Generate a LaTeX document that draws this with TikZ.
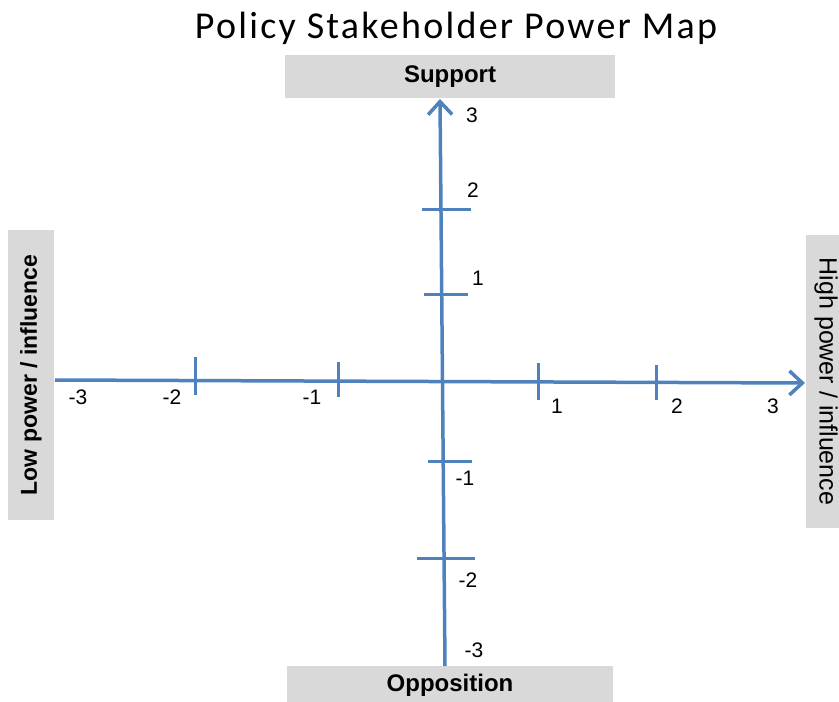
\documentclass[tikz,border=0pt]{standalone}
\usepackage{fontspec}
\setmainfont{Liberation Sans}
\newfontfamily\titlefont[LetterSpace=6]{Carlito}
\usetikzlibrary{arrows.meta}
\definecolor{axisblue}{HTML}{4F81BD}
\definecolor{boxgray}{HTML}{D9D9D9}

\begin{document}
\begin{tikzpicture}[x=1pt,y=-1pt,
    mainaxis/.style={axisblue, line width=3.5pt, -{Straight Barb[length=13pt,width=24pt]}},
    tickmark/.style={axisblue, line width=3pt},
    numlabel/.style={inner sep=0pt, font=\fontsize{21}{21}\selectfont},
    sidebox/.style={fill=boxgray, inner sep=0pt, font=\bfseries\fontsize{24}{24}\selectfont}]

    \useasboundingbox (0,0) rectangle (839,702);

    % title
    \node[anchor=base, font=\titlefont\fontsize{38}{38}\selectfont] (title) at (456,38) {Policy Stakeholder Power Map};

    % grey label boxes
    \node[sidebox, minimum width=330pt, minimum height=43pt] (support) at (450,76.5) {Support};
    \node[sidebox, minimum width=326pt, minimum height=38pt] (opposition) at (450,685) {Opposition};
    \node[sidebox, rotate=90, minimum width=290pt, minimum height=46pt, font=\bfseries\fontsize{23}{23}\selectfont] (low) at (31,375) {Low power / influence};
    \node[sidebox, rotate=-90, minimum width=293pt, minimum height=40pt, font=\fontsize{25}{25}\selectfont] (high) at (826,381.5) {High power / influence};

    % axis ends
    \coordinate (xl) at (55,380);
    \coordinate (xr) at (805,383);
    \coordinate (yb) at (445,666);
    \coordinate (yt) at (440,99);

    \draw[mainaxis] (xl) to (xr); % low -> high
    \draw[mainaxis] (yb) to (yt); % opposition -> support

    % ticks
    \foreach \x/\a/\b in {195/357/395, 338/362/397, 538/363/400, 656/365/400}
        \draw[tickmark] (\x,\a) to (\x,\b);
    \foreach \y/\a/\b in {209/422/471, 294/424/468, 461/428/472, 558/417/475}
        \draw[tickmark] (\a,\y) to (\b,\y);

    % numbers
    \node[numlabel] (xm3) at (78,397) {-3};
    \node[numlabel] (xm2) at (172,397) {-2};
    \node[numlabel] (xm1) at (312,397) {-1};
    \node[numlabel] (xp1) at (557,406) {1};
    \node[numlabel] (xp2) at (677,406) {2};
    \node[numlabel] (xp3) at (773,406) {3};
    \node[numlabel] (yp3) at (472,115) {3};
    \node[numlabel] (yp2) at (473,190) {2};
    \node[numlabel] (yp1) at (478,278) {1};
    \node[numlabel] (ym1) at (465,478) {-1};
    \node[numlabel] (ym2) at (468,580) {-2};
    \node[numlabel] (ym3) at (474,650) {-3};

\end{tikzpicture}
\end{document}
